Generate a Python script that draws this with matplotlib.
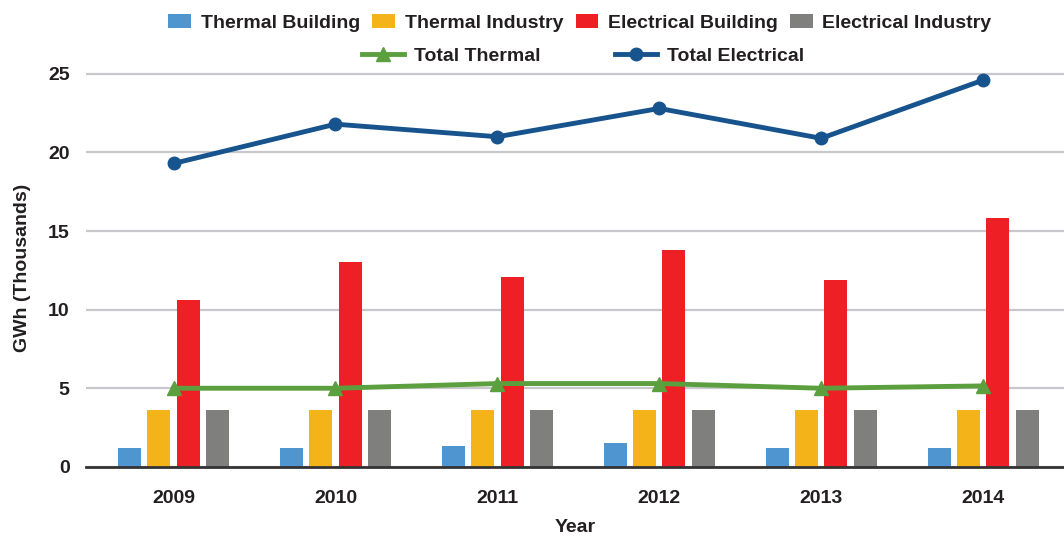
import matplotlib
matplotlib.use("Agg")
import matplotlib.pyplot as plt
import numpy as np

years = ["2009", "2010", "2011", "2012", "2013", "2014"]
thermal_building = [1.2, 1.2, 1.3, 1.5, 1.2, 1.2]
thermal_industry = [3.6, 3.6, 3.6, 3.6, 3.6, 3.6]
electrical_building = [10.6, 13.0, 12.1, 13.8, 11.9, 15.8]
electrical_industry = [3.6, 3.6, 3.6, 3.6, 3.6, 3.6]
total_thermal = [5.0, 5.0, 5.3, 5.3, 5.0, 5.15]
total_electrical = [19.3, 21.8, 21.0, 22.8, 20.9, 24.6]

plt.rcParams['font.family'] = ['Liberation Sans', 'DejaVu Sans']
plt.rcParams['font.weight'] = 'bold'
txt = '#231f20'
fs = 14

fig = plt.figure(figsize=(10.64, 5.36), dpi=100)
ax = fig.add_axes([0.081, 0.129, 0.919, 0.742])

x = np.arange(len(years))
w = 0.142
step = 0.181
offs = [-1.5 * step, -0.5 * step, 0.5 * step, 1.5 * step]
series = [
    (thermal_building, '#4f95d0', 'Thermal Building'),
    (thermal_industry, '#f5b31a', 'Thermal Industry'),
    (electrical_building, '#ee1f25', 'Electrical Building'),
    (electrical_industry, '#7f7f7e', 'Electrical Industry'),
]
bar_handles = []
for (vals, c, lab), o in zip(series, offs):
    b = ax.bar(x + o, vals, width=w, color=c, label=lab, zorder=2)
    bar_handles.append(b)

l1, = ax.plot(x, total_thermal, color='#5b9f3e', lw=3.5, marker='^', ms=10,
              label='Total Thermal', zorder=3)
l2, = ax.plot(x, total_electrical, color='#17538c', lw=3.5, marker='o', ms=9,
              label='Total Electrical', zorder=3)

ax.set_xlim(-0.54, 5.5)
ax.set_ylim(0, 25.3)
ax.set_yticks([0, 5, 10, 15, 20, 25])
ax.set_xticks(x)
ax.set_xticklabels(years)
ax.yaxis.grid(True, color='#c8c8cc', lw=1.6, zorder=0)
ax.set_axisbelow(True)
for s in ['top', 'right', 'left']:
    ax.spines[s].set_visible(False)
ax.spines['bottom'].set_color('#333333')
ax.spines['bottom'].set_linewidth(2)
ax.spines['bottom'].set_zorder(4)
ax.tick_params(axis='both', length=0, labelsize=fs, colors=txt)
ax.tick_params(axis='x', pad=17)
ax.tick_params(axis='y', pad=12)
ax.set_xlabel('Year', fontsize=fs, color=txt, fontweight='bold', labelpad=8)
ax.set_ylabel('GWh (Thousands)', fontsize=fs, color=txt, fontweight='bold', labelpad=12)

leg1 = ax.legend(handles=bar_handles, loc='center', bbox_to_anchor=(0.505, 1.116),
                 ncol=4, frameon=False, fontsize=fs, handlelength=1.15,
                 handleheight=0.7, columnspacing=0.65, handletextpad=0.5,
                 borderpad=0, borderaxespad=0)
for t in leg1.get_texts():
    t.set_color(txt)
ax.add_artist(leg1)
leg2 = ax.legend(handles=[l1, l2], loc='center', bbox_to_anchor=(0.508, 1.033),
                 ncol=2, frameon=False, fontsize=fs, handlelength=2.2,
                 columnspacing=3.8, handletextpad=0.5,
                 borderpad=0, borderaxespad=0)
for t in leg2.get_texts():
    t.set_color(txt)

fig.savefig('out.png', dpi=100)
